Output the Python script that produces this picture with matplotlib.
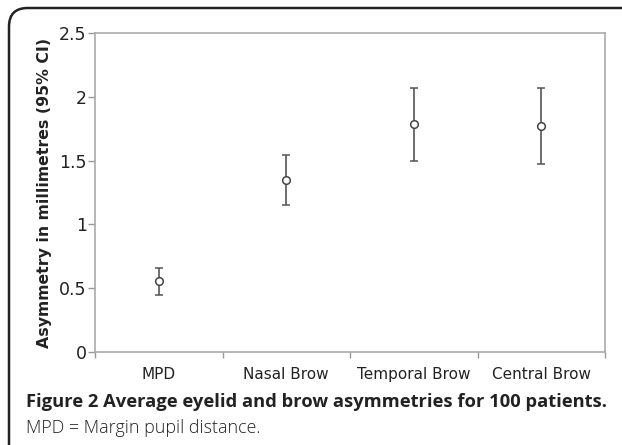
import numpy as np
import matplotlib.pyplot as plt
from matplotlib.patches import FancyBboxPatch

# values
categories = ["MPD", "Nasal Brow", "Temporal Brow", "Central Brow"]
means = [0.56, 1.35, 1.79, 1.77]
upper = [0.66, 1.54, 2.07, 2.07]
lower = [0.45, 1.15, 1.50, 1.47]
yticks = [0, 0.5, 1, 1.5, 2, 2.5]
ytick_labels = ["0", "0.5", "1", "1.5", "2", "2.5"]

W, H = 622, 445
fig = plt.figure(figsize=(W / 100, H / 100), dpi=100)
fig.set_facecolor("white")

# axes box in pixels: left 95, right 605, top 33, bottom 352
ax = fig.add_axes([95 / W, 1 - 352 / H, 510 / W, 319 / H])

x = np.arange(len(categories))
m = np.array(means)
err = [m - np.array(lower), np.array(upper) - m]
ax.errorbar(x, m, yerr=err, fmt="o", color="#555555", ecolor="#555555",
            elinewidth=1.2, capsize=3, capthick=1.2, markersize=5.5,
            markerfacecolor="white", markeredgecolor="#444444", markeredgewidth=1.1)

ax.set_xlim(-0.5, len(categories) - 0.5)
ax.set_ylim(0, 2.5)
ax.set_yticks(yticks)
ax.set_yticklabels(ytick_labels)
ax.set_xticks(x)
ax.set_xticklabels(categories)
ax.set_xticks(np.arange(len(categories) + 1) - 0.5, minor=True)
ax.tick_params(axis="x", which="major", length=0, pad=11, labelsize=11, colors="#222222")
ax.tick_params(axis="x", which="minor", length=4, width=1, color="#999999", direction="out")
ax.tick_params(axis="y", length=5, width=1, color="#999999", direction="out",
               labelsize=12.5, labelcolor="#222222", pad=1)
for s in ax.spines.values():
    s.set_color("#aaaaaa")
    s.set_linewidth(1.2)

ax.set_ylabel("Asymmetry in millimetres (95% CI)", fontsize=11.3, fontweight="bold",
              color="#222222", labelpad=5)

# caption
fig.text(26 / W, 1 - 402 / H, "Figure 2 Average eyelid and brow asymmetries for 100 patients.",
         family="Open Sans", fontweight="bold", fontsize=13.2, color="#222222", va="center")
fig.text(26 / W, 1 - 428 / H, "MPD = Margin pupil distance.",
         family="Open Sans", fontweight="light", fontsize=12.9, color="#222222", va="center")

# rounded frame, only top and left show
frame = FancyBboxPatch((9 / W, -0.2), 1.2, 1.2 - 8 / H,
                       boxstyle="round,pad=0,rounding_size=0.03",
                       transform=fig.transFigure, fill=False,
                       edgecolor="#222222", linewidth=1.8, mutation_aspect=W / H)
fig.patches.append(frame)

fig.savefig("out.png", dpi=100, facecolor="white")
